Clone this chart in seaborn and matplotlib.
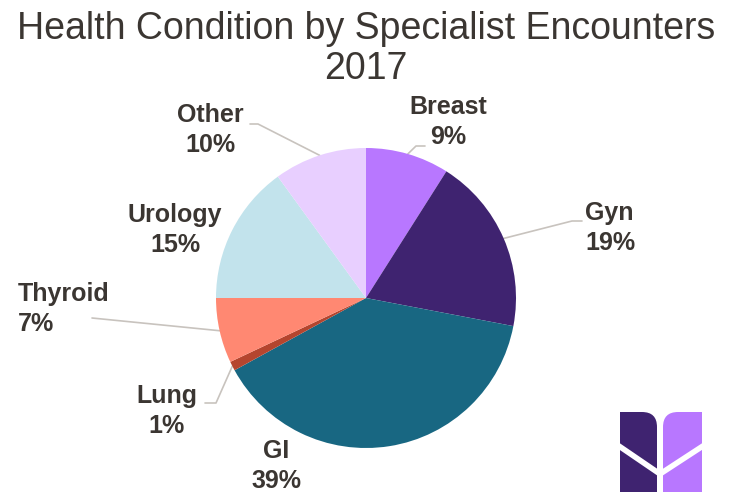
import numpy as np
import matplotlib
matplotlib.use('Agg')
import matplotlib.pyplot as plt
from matplotlib.patches import FancyBboxPatch
import seaborn as sns

# data
categories = ['Breast', 'Gyn', 'GI', 'Lung', 'Thyroid', 'Urology', 'Other']
shares = [9, 19, 39, 1, 7, 15, 10]
colors = ['#B877FF', '#3F2370', '#186782', '#B5452E', '#FF8872', '#C2E3EC', '#E8CFFF']

sns.set_theme(style='white')
plt.rcParams['font.family'] = ['Liberation Sans', 'DejaVu Sans']
text_col = '#3B3632'
line_col = '#C8C3BE'

fig = plt.figure(figsize=(7.31, 4.92), dpi=100)
ax = fig.add_axes([0, 0, 1, 1])

cx, cy, r = 366, 194, 150
ax.pie(shares, colors=colors, startangle=90, counterclock=False,
       center=(cx, cy), radius=r, wedgeprops=dict(linewidth=0),
       frame=True)
ax.set_xlim(0, 731)
ax.set_ylim(0, 492)
ax.set_aspect('equal')
ax.axis('off')

# mid angle of every wedge, for the leader lines
cum = np.cumsum([0] + shares[:-1])
mid = 90 - (cum + np.array(shares) / 2) / sum(shares) * 360

# label position (pixels, y up), alignment, leader elbow points
label_pos = {
    'Breast': (448, 370, 'center', [(416, 346), (425, 346)]),
    'Gyn': (585, 264, 'left', [(572, 271), (582, 271)]),
    'GI': (276, 26, 'center', None),
    'Lung': (167, 81, 'center', [(216, 89), (205, 89)]),
    'Thyroid': (18, 183, 'left', [(92, 174)]),
    'Urology': (175, 262, 'center', None),
    'Other': (210, 362, 'center', [(258, 368), (250, 368)]),
}

for i, cat in enumerate(categories):
    x, y, ha, elbow = label_pos[cat]
    ax.text(x, y, f'{cat}\n{shares[i]}%', ha=ha, va='center',
            fontsize=18, fontweight='bold', color=text_col, linespacing=1.35)
    if elbow:
        a = np.deg2rad(mid[i])
        px, py = cx + r * np.cos(a), cy + r * np.sin(a)
        xs = [px] + [p[0] for p in elbow]
        ys = [py] + [p[1] for p in elbow]
        ax.plot(xs, ys, color=line_col, lw=1.2, zorder=0)

ax.text(366, 443, 'Health Condition by Specialist Encounters\n2017',
        ha='center', va='center', fontsize=27, color=text_col,
        linespacing=1.15)

# logo in the corner
ax.add_patch(FancyBboxPatch((620, -20), 37, 100,
                            boxstyle='round,pad=0,rounding_size=15',
                            fc='#3F2370', ec='none'))
ax.add_patch(FancyBboxPatch((663, -20), 39, 100,
                            boxstyle='round,pad=0,rounding_size=15',
                            fc='#B877FF', ec='none'))
ax.add_patch(plt.Rectangle((620, -20), 18, 100, fc='#3F2370', ec='none'))
ax.add_patch(plt.Rectangle((684, -20), 18, 100, fc='#B877FF', ec='none'))
ax.plot([616, 660, 706], [48, 18, 48], color='white', lw=4, solid_capstyle='butt')

fig.savefig('out.png', dpi=100)
